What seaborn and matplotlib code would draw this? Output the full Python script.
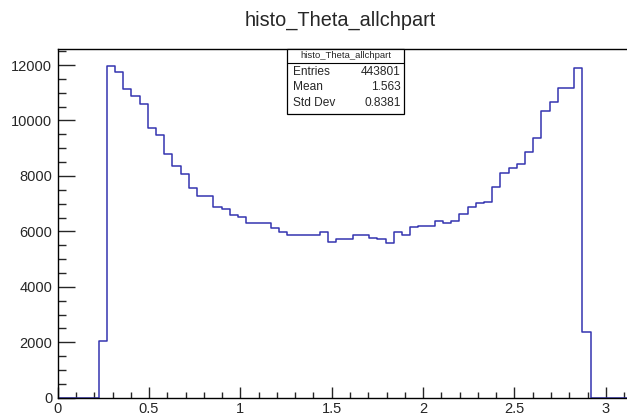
import numpy as np
import pandas as pd
import matplotlib
matplotlib.use("Agg")
import matplotlib.pyplot as plt
import seaborn as sns
from matplotlib.patches import Rectangle
from matplotlib.lines import Line2D
from matplotlib.ticker import MultipleLocator

# ---- data (histogram contents, 70 bins over 0..pi) ----
n_bins = 70
x_min = 0.0
x_max = np.pi
counts = [0, 0, 0, 0, 0,
          2050, 11980, 11740, 11125, 10884, 10606, 9718, 9477, 8802, 8369,
          8081, 7565, 7265, 7265, 6890, 6818, 6602, 6530, 6313, 6313,
          6313, 6111, 5967, 5869, 5869, 5869, 5869, 5967, 5628, 5714,
          5714, 5869, 5869, 5772, 5714, 5592, 5967, 5869, 6147, 6205,
          6205, 6385, 6291, 6385, 6638, 6880, 7013, 7071, 7612, 8117,
          8276, 8420, 8853, 9380, 10343, 10678, 11162, 11162, 11883, 2380,
          0, 0, 0, 0, 0]
title = "histo_Theta_allchpart"
stat_names = ["Entries", "Mean", "Std Dev"]
stat_values = ["443801", "1.563", "0.8381"]
x_ticks = [0, 0.5, 1, 1.5, 2, 2.5, 3]
x_tick_labels = ["0", "0.5", "1", "1.5", "2", "2.5", "3"]
y_ticks = [0, 2000, 4000, 6000, 8000, 10000, 12000]

edges = np.linspace(x_min, x_max, n_bins + 1)
centers = 0.5 * (edges[:-1] + edges[1:])
df = pd.DataFrame({"theta": centers, "w": counts})

sns.set_style("ticks")
plt.rcParams["font.family"] = ["Liberation Sans", "DejaVu Sans"]

W, H = 627, 416
fig = plt.figure(figsize=(W / 100, H / 100), dpi=100)
px_per_unit = 182.7
ax = fig.add_axes([57.7 / W, (H - 397.7) / H, (x_max - x_min) * px_per_unit / W, (397.7 - 49) / H])

sns.histplot(data=df, x="theta", weights="w", bins=n_bins, binrange=(x_min, x_max),
             element="step", fill=False, color="#3434b0", linewidth=1.1, ax=ax)

ax.set_xlim(x_min, x_max)
ax.set_ylim(0, max(counts) * 1.05)
ax.set_xlabel("")
ax.set_ylabel("")
ax.set_xticks(x_ticks)
ax.set_xticklabels(x_tick_labels)
ax.set_yticks(y_ticks)
ax.xaxis.set_minor_locator(MultipleLocator(0.1))
ax.yaxis.set_minor_locator(MultipleLocator(500))
ax.tick_params(axis="x", which="major", direction="in", length=8, width=1, pad=3, labelsize=10.5, top=False)
ax.tick_params(axis="x", which="minor", direction="in", length=4, width=1, top=False)
ax.tick_params(axis="y", which="major", direction="in", length=12.2, width=1, pad=4, labelsize=10.5, right=False)
ax.tick_params(axis="y", which="minor", direction="in", length=6.1, width=1, right=False)
for s in ["left", "bottom", "top", "right"]:
    ax.spines[s].set_visible(True)
    ax.spines[s].set_linewidth(1.0)
    ax.spines[s].set_color("black")
ax.grid(False)

# title
fig.text(340 / W, 1 - 20 / H, title, ha="center", va="center", fontsize=14.3)

# stats box (figure pixel coordinates)
def fx(p):
    return p / W

def fy(p):
    return 1 - p / H

bx0, bx1, by0, by1 = 287, 404, 48.5, 113.5
fig.add_artist(Rectangle((fx(bx0), fy(by1)), fx(bx1) - fx(bx0), fy(by0) - fy(by1),
                         transform=fig.transFigure, facecolor="white",
                         edgecolor="black", linewidth=0.9, zorder=5))
fig.add_artist(Line2D([fx(bx0), fx(bx1)], [fy(62.5), fy(62.5)], transform=fig.transFigure,
                      color="black", linewidth=0.8, zorder=6))
fig.text(fx((bx0 + bx1) / 2), fy(56), title, ha="center", va="center", fontsize=6.8, zorder=7)
row_y = [72, 87.5, 103.5]
for name, val, ry in zip(stat_names, stat_values, row_y):
    fig.text(fx(293), fy(ry), name, ha="left", va="center", fontsize=8.6, zorder=7)
    fig.text(fx(400.5), fy(ry), val, ha="right", va="center", fontsize=8.6, zorder=7)

fig.savefig("out.png", dpi=100)
